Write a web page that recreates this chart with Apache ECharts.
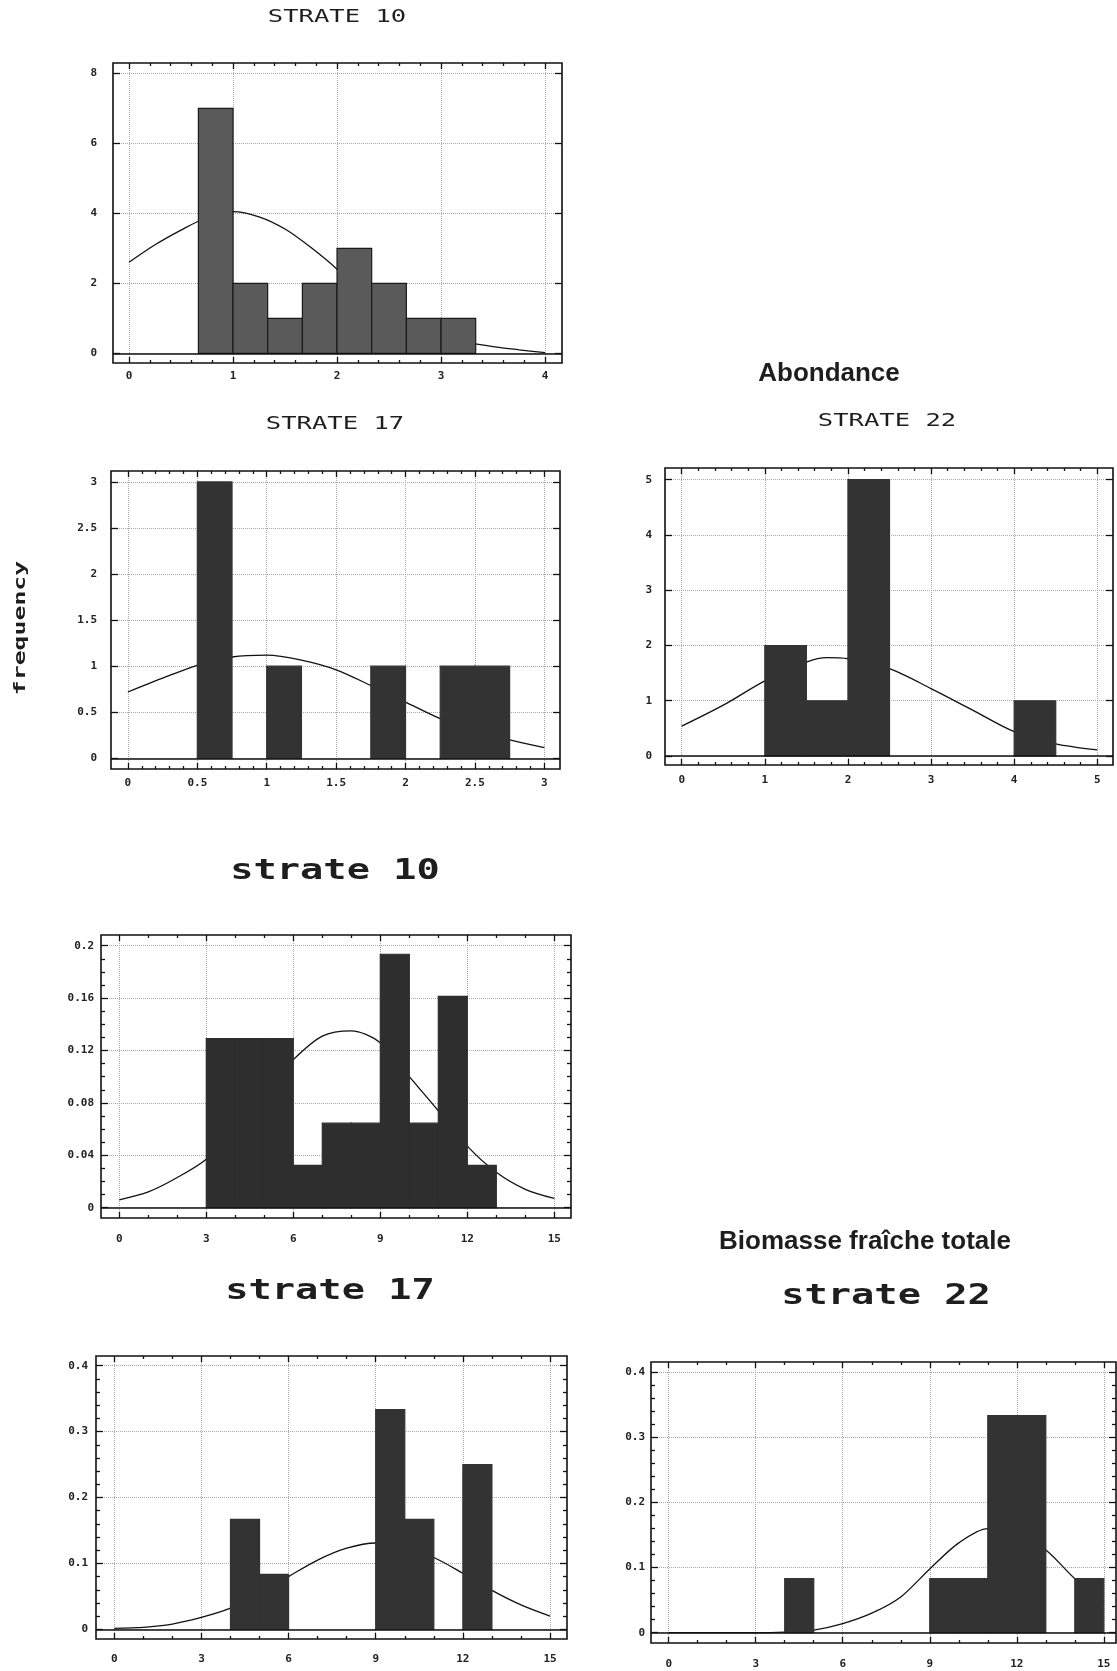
<!DOCTYPE html>
<html><head><meta charset="utf-8">
<script src="https://cdn.jsdelivr.net/npm/echarts@6/dist/echarts.min.js"></script>
<style>html,body{margin:0;padding:0;background:#fff}#c{width:1117px;height:1671px}</style>
</head><body><div id="c"></div>
<script>
// ===== Abondance — STRATE 10 =====
const ab10XTicks = [0, 1, 2, 3, 4];
const ab10YTicks = [0, 2, 4, 6, 8];
const ab10BinLo  = [0.667, 1, 1.333, 1.667, 2, 2.333, 2.667, 3];
const ab10BinHi  = [1, 1.333, 1.667, 2, 2.333, 2.667, 3, 3.333];
const ab10Freq   = [7, 2, 1, 2, 3, 2, 1, 1];
const ab10CurveX = [0, 0.25, 0.5, 0.75, 1, 1.25, 1.5, 1.75, 2, 2.25, 2.5, 2.75, 3, 3.25, 3.5, 3.75, 4];
const ab10CurveY = [2.6, 3.1, 3.52, 3.88, 4.05, 3.9, 3.55, 3.02, 2.4, 1.62, 1.07, 0.72, 0.48, 0.31, 0.19, 0.1, 0.02];

// ===== Abondance — STRATE 17 =====
const ab17XTicks = [0, 0.5, 1, 1.5, 2, 2.5, 3];
const ab17YTicks = [0, 0.5, 1, 1.5, 2, 2.5, 3];
const ab17BinLo  = [0.5, 1, 1.75, 2.25, 2.5];
const ab17BinHi  = [0.75, 1.25, 2, 2.5, 2.75];
const ab17Freq   = [3, 1, 1, 1, 1];
const ab17CurveX = [0, 0.25, 0.5, 0.75, 1, 1.25, 1.5, 1.75, 2, 2.25, 2.5, 2.75, 3];
const ab17CurveY = [0.72, 0.87, 1.01, 1.1, 1.12, 1.065, 0.96, 0.79, 0.61, 0.43, 0.29, 0.2, 0.115];

// ===== Abondance — STRATE 22 =====
const ab22XTicks = [0, 1, 2, 3, 4, 5];
const ab22YTicks = [0, 1, 2, 3, 4, 5];
const ab22BinLo  = [1, 1.5, 2, 4];
const ab22BinHi  = [1.5, 2, 2.5, 4.5];
const ab22Freq   = [2, 1, 5, 1];
const ab22CurveX = [0, 0.5, 1, 1.5, 1.75, 2, 2.5, 3, 3.5, 4, 4.5, 5];
const ab22CurveY = [0.54, 0.92, 1.36, 1.7, 1.78, 1.76, 1.58, 1.22, 0.83, 0.44, 0.22, 0.11];

// ===== Biomasse fraîche totale — strate 10 =====
const bio10XTicks = [0, 3, 6, 9, 12, 15];
const bio10YTicks = [0, 0.04, 0.08, 0.12, 0.16, 0.2];
const bio10BinLo  = [3, 4, 5, 6, 7, 8, 9, 10, 11, 12];
const bio10BinHi  = [4, 5, 6, 7, 8, 9, 10, 11, 12, 13];
const bio10Freq   = [0.129, 0.129, 0.129, 0.0323, 0.0645, 0.0645, 0.1935, 0.0645, 0.1613, 0.0323];
const bio10CurveX = [0, 1, 2, 3, 4, 5, 6, 7, 8, 9, 10, 11, 12, 13, 14, 15];
const bio10CurveY = [0.006, 0.012, 0.023, 0.037, 0.06, 0.088, 0.113, 0.131, 0.135, 0.126, 0.1, 0.074, 0.047, 0.027, 0.014, 0.007];

// ===== Biomasse fraîche totale — strate 17 =====
const bio17XTicks = [0, 3, 6, 9, 12, 15];
const bio17YTicks = [0, 0.1, 0.2, 0.3, 0.4];
const bio17BinLo  = [4, 5, 9, 10, 12];
const bio17BinHi  = [5, 6, 10, 11, 13];
const bio17Freq   = [0.1667, 0.0833, 0.3333, 0.1667, 0.25];
const bio17CurveX = [0, 1, 2, 3, 4, 5, 6, 7, 8, 9, 10, 11, 12, 13, 14, 15];
const bio17CurveY = [0.0015, 0.003, 0.008, 0.018, 0.032, 0.054, 0.08, 0.105, 0.123, 0.131, 0.124, 0.109, 0.085, 0.059, 0.037, 0.02];

// ===== Biomasse fraîche totale — strate 22 =====
const bio22XTicks = [0, 3, 6, 9, 12, 15];
const bio22YTicks = [0, 0.1, 0.2, 0.3, 0.4];
const bio22BinLo  = [4, 9, 10, 11, 12, 14];
const bio22BinHi  = [5, 10, 11, 12, 13, 15];
const bio22Freq   = [0.0833, 0.0833, 0.0833, 0.3333, 0.3333, 0.0833];
const bio22CurveX = [0, 1, 2, 3, 4, 5, 6, 7, 8, 9, 10, 11, 12, 13, 14, 15];
const bio22CurveY = [0, 0, 0, 0, 0.001, 0.004, 0.014, 0.03, 0.055, 0.098, 0.138, 0.16, 0.152, 0.127, 0.083, 0.048];

// ===== Titles =====
const titleTop      = 'STRATE 10';
const titleAbond    = 'Abondance';
const titleS17      = 'STRATE 17';
const titleS22      = 'STRATE 22';
const yAxisName     = 'frequency';
const titleB10      = 'strate 10';
const titleBiomasse = 'Biomasse fraîche totale';
const titleB17      = 'strate 17';
const titleB22      = 'strate 22';

const MONO = '"DejaVu Sans Mono", "Liberation Mono", monospace';
const SANS = '"Liberation Sans", Arial, sans-serif';

const option = {
  backgroundColor: '#ffffff', animation: false,
  grid: [], xAxis: [], yAxis: [], series: [], graphic: []
};

function minorOf(ticks, step) {
  const out = [];
  const a = ticks[0], b = ticks[ticks.length - 1];
  const n = Math.round((b - a) / step);
  for (let k = 0; k <= n; k++) {
    const v = +(a + k * step).toFixed(9);
    if (!ticks.some(t => Math.abs(t - v) < step / 10)) out.push(v);
  }
  return out;
}

function baseAxis(g, range, pos) {
  return {
    gridIndex: g, type: 'value', min: range[0], max: range[1], position: pos,
    axisLine: { show: false, onZero: false },
    axisTick: { show: false }, axisLabel: { show: false },
    splitLine: { show: false }, minorTick: { show: false }, minorSplitLine: { show: false }
  };
}
function tickAxis(g, range, pos, values, len, style) {
  const a = baseAxis(g, range, pos);
  a.axisTick = { show: true, inside: true, length: len, customValues: values, lineStyle: style };
  return a;
}

function addPanel(p) {
  const g = option.grid.length;
  const [l, t, r, b] = p.frame;
  const W = r - l, H = b - t;
  option.grid.push({ left: l, top: t, width: W, height: H, show: true,
    borderColor: '#111', borderWidth: 1.6, backgroundColor: 'rgba(0,0,0,0)' });
  const gridStyle = { color: '#a8a8a8', type: 'dotted', width: 1 };
  const tickStyle = { color: '#111', width: 1.3 };
  const labelStyle = { fontFamily: MONO, fontSize: 11, fontWeight: 'bold', color: '#222' };
  // x axes
  const xi = option.xAxis.length;
  option.xAxis.push(tickAxis(g, p.xRange, 'bottom', p.xTicks, H, gridStyle));
  const xMain = tickAxis(g, p.xRange, 'bottom', p.xTicks, 6, tickStyle);
  xMain.axisLabel = Object.assign({ show: true, customValues: p.xTicks, margin: p.xMargin }, labelStyle);
  option.xAxis.push(xMain);
  option.xAxis.push(tickAxis(g, p.xRange, 'top', p.xTicks, 6, tickStyle));
  const xm = minorOf(p.xTicks, p.xMinor);
  option.xAxis.push(tickAxis(g, p.xRange, 'bottom', xm, 3, tickStyle));
  option.xAxis.push(tickAxis(g, p.xRange, 'top', xm, 3, tickStyle));
  // y axes
  const yi = option.yAxis.length;
  option.yAxis.push(tickAxis(g, p.yRange, 'left', p.yTicks, W, gridStyle));
  const yMain = tickAxis(g, p.yRange, 'left', p.yTicks, 7, tickStyle);
  yMain.axisLabel = Object.assign({ show: true, customValues: p.yTicks, margin: p.yMargin }, labelStyle);
  option.yAxis.push(yMain);
  option.yAxis.push(tickAxis(g, p.yRange, 'right', p.yTicks, 7, tickStyle));
  if (p.yMinor) {
    const ym = minorOf(p.yTicks, p.yMinor);
    option.yAxis.push(tickAxis(g, p.yRange, 'left', ym, 4, tickStyle));
    option.yAxis.push(tickAxis(g, p.yRange, 'right', ym, 4, tickStyle));
  }
  // fitted curve + zero line
  option.series.push({
    type: 'line', xAxisIndex: xi + 1, yAxisIndex: yi + 1, z: 2,
    data: p.curveX.map((x, i) => [x, p.curveY[i]]),
    smooth: 0.3, showSymbol: false, symbol: 'none',
    lineStyle: { color: '#111', width: 1.3 },
    markLine: { silent: true, symbol: 'none', label: { show: false },
      lineStyle: { color: '#111', type: 'solid', width: 1.6 }, data: [{ yAxis: 0 }] }
  });
  // histogram bars
  const col = p.color, edge = p.edge;
  option.series.push({
    type: 'custom', xAxisIndex: xi + 1, yAxisIndex: yi + 1, z: 4,
    encode: { x: [0, 1], y: 2 },
    data: p.lo.map((lo, i) => [lo, p.hi[i], p.freq[i]]),
    renderItem: function (params, api) {
      const p0 = api.coord([api.value(0), api.value(2)]);
      const p1 = api.coord([api.value(1), 0]);
      return { type: 'rect',
        shape: { x: p0[0], y: p0[1], width: p1[0] - p0[0], height: p1[1] - p0[1] },
        style: { fill: col, stroke: edge, lineWidth: 1.2 } };
    }
  });
}

addPanel({ frame: [113, 63, 562, 363], xRange: [-0.154, 4.163], yRange: [-0.277, 8.294],
  xTicks: ab10XTicks, yTicks: ab10YTicks, xMinor: 0.2, yMinor: null, xMargin: 8, yMargin: 16,
  lo: ab10BinLo, hi: ab10BinHi, freq: ab10Freq, curveX: ab10CurveX, curveY: ab10CurveY,
  color: '#5a5a5a', edge: '#1a1a1a' });
addPanel({ frame: [111, 471, 560, 769], xRange: [-0.122, 3.113], yRange: [-0.116, 3.119],
  xTicks: ab17XTicks, yTicks: ab17YTicks, xMinor: 0.1, yMinor: null, xMargin: 9, yMargin: 14,
  lo: ab17BinLo, hi: ab17BinHi, freq: ab17Freq, curveX: ab17CurveX, curveY: ab17CurveY,
  color: '#333333', edge: '#333333' });
addPanel({ frame: [665, 468, 1113, 765], xRange: [-0.201, 5.189], yRange: [-0.163, 5.212],
  xTicks: ab22XTicks, yTicks: ab22YTicks, xMinor: 0.2, yMinor: null, xMargin: 10, yMargin: 13,
  lo: ab22BinLo, hi: ab22BinHi, freq: ab22Freq, curveX: ab22CurveX, curveY: ab22CurveY,
  color: '#333333', edge: '#333333' });
addPanel({ frame: [101, 935, 571, 1218], xRange: [-0.63, 15.575], yRange: [-0.0079, 0.2082],
  xTicks: bio10XTicks, yTicks: bio10YTicks, xMinor: 1, yMinor: 0.01, xMargin: 16, yMargin: 7,
  lo: bio10BinLo, hi: bio10BinHi, freq: bio10Freq, curveX: bio10CurveX, curveY: bio10CurveY,
  color: '#2e2e2e', edge: '#2e2e2e' });
addPanel({ frame: [96, 1356, 567, 1639], xRange: [-0.63, 15.585], yRange: [-0.0147, 0.4147],
  xTicks: bio17XTicks, yTicks: bio17YTicks, xMinor: 1, yMinor: 0.02, xMargin: 15, yMargin: 8,
  lo: bio17BinLo, hi: bio17BinHi, freq: bio17Freq, curveX: bio17CurveX, curveY: bio17CurveY,
  color: '#333333', edge: '#333333' });
addPanel({ frame: [651, 1362, 1116, 1643], xRange: [-0.61, 15.42], yRange: [-0.0158, 0.4158],
  xTicks: bio22XTicks, yTicks: bio22YTicks, xMinor: 1, yMinor: 0.02, xMargin: 16, yMargin: 6,
  lo: bio22BinLo, hi: bio22BinHi, freq: bio22Freq, curveX: bio22CurveX, curveY: bio22CurveY,
  color: '#333333', edge: '#333333' });

function txt(text, x, y, font, size, weight, sx, rot) {
  return { type: 'text', x: x, y: y, scaleX: sx || 1, rotation: rot || 0, z: 10,
    style: { text: text, fontFamily: font, fontSize: size, fontWeight: weight,
      fill: '#1e1e1e', align: 'center', verticalAlign: 'middle' } };
}
option.graphic = [
  txt(titleTop, 337, 17, MONO, 18, 'normal', 1.42),
  txt(titleAbond, 829, 374, SANS, 26, 'bold', 1),
  txt(titleS17, 335, 424, MONO, 18, 'normal', 1.42),
  txt(titleS22, 887, 421, MONO, 18, 'normal', 1.42),
  txt(yAxisName, 21, 628, MONO, 16, 'bold', 1.55, Math.PI / 2),
  txt(titleB10, 335, 872, MONO, 28, 'bold', 1.38),
  txt(titleBiomasse, 865, 1242, SANS, 26, 'bold', 1),
  txt(titleB17, 330, 1292, MONO, 28, 'bold', 1.38),
  txt(titleB22, 886, 1297, MONO, 28, 'bold', 1.38)
];

const chart = echarts.init(document.getElementById('c'), null, { renderer: 'canvas' });
chart.setOption(option);
</script></body></html>
